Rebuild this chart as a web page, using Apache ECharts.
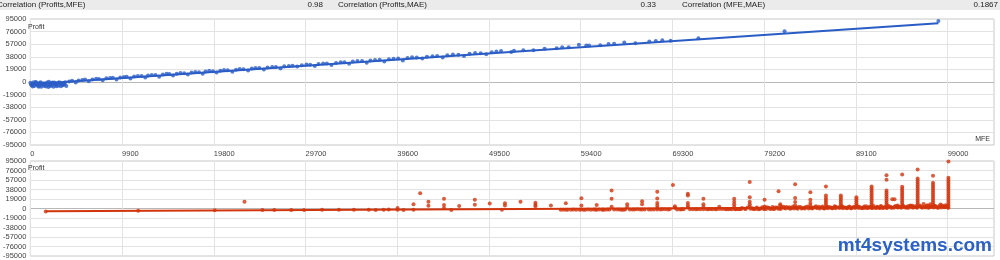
<!DOCTYPE html>
<html><head><meta charset="utf-8">
<script src="https://cdn.jsdelivr.net/npm/echarts@6/dist/echarts.min.js"></script>
<style>html,body{margin:0;padding:0;background:#fff}#c{width:1000px;height:260px}</style>
</head><body><div id="c"></div>
<script>
// ---- data ----
const corrLabels = ["Correlation (Profits,MFE)", "Correlation (Profits,MAE)", "Correlation (MFE,MAE)"];
const corrValues = ["0.98", "0.33", "0.1867"];
const yAxisName = "Profit";
const xAxisName = "MFE";
const watermark = "mt4systems.com";

// top chart: [MFE, Profit]
const bluePoints = [
 [0,-1200],[150,-4800],[300,-2600],[420,-5900],[560,-900],[700,-3700],[820,-2100],[950,-5200],[1100,-300],[1230,-4100],
 [1380,-1800],[1500,-6100],[1640,-2900],[1790,-600],[1900,-4500],[2050,-3300],[2200,-1500],[2320,-5400],[2480,-2400],[2600,-700],
 [2750,-4000],[2900,-1900],[3020,-5600],[3180,-3000],[3300,-1100],[3450,-4300],[3600,-2200],[3750,-500],[250,-6800],[900,-7200],
 [1700,-6600],[2500,-7000],[3300,-6300],[600,100],[2000,300],[80,-3900],[480,-3000],[1000,-1600],[1450,-4000],[2150,-6200],[2700,-3100],[3500,-5000],
 [350,-500],[780,-5600],[1180,-7000],[1560,-2300],[1960,-7400],[2380,-800],[2820,-6400],[3100,-200],[3680,-3600],[3880,-6000],
 [4200,800],[4900,-600],[5600,2900],[6300,1200],[7100,4800],[7800,2600],[8600,5900],[9300,3900],[10100,7400],[10800,5300],
 [11600,9200],[12400,6900],[13100,10400],[13900,8100],[14700,12300],[15400,9800],[16200,13700],[17000,11200],[17800,15100],[18600,12600],
 [19300,16800],[20100,14300],[20900,18200],[21800,15600],[22600,19500],[23500,17300],[24300,21000],[25200,18700],[26100,22800],[27000,20400],
 [27900,24100],[28800,23300],[29800,26400],[30700,24300],[31600,28000],[32500,25800],[33500,29700],[34400,27500],[35300,31500],[36300,29200],
 [37200,33200],[38200,30900],[39200,35000],[40200,32600],[41200,37300],[42300,35400],[43400,39000],[44500,37100],[45600,41500],[46800,39200],
 [48000,43800],[49200,41900],[50300,45900],[50800,46600],[51900,45200],[53200,47700],[54300,47900],[55500,50000],[56800,50900],[58100,52500],
 [59200,56300],[60300,54900],[61500,55600],[62400,57200],[64100,59600],[65300,58400],[66800,61000],[68200,62900],[69100,62300],[72100,65900],
 [81400,76600],[98000,92000],
 [4500,1900],[5200,2400],[5900,3600],[6700,3900],[7400,4700],[8200,5500],[8900,6300],[9700,6600],[10400,7900],[11200,8300],
 [12000,9100],[12700,9900],[13500,10500],[14300,11300],[15000,12100],[15800,12600],[16600,13300],[17400,14200],[18200,14700],[18900,15800],
 [19700,16300],[20500,17100],[21300,17800],[22200,18600],[23000,19300],[23900,20400],[24700,21100],[25600,21900],[26500,22600],[27400,23700],
 [28300,24500],[29300,25300],[30200,26200],[31100,27100],[32000,27900],[33000,28800],[33900,29600],[34800,30800],[35800,31600],[36700,32400],
 [37700,33500],[38700,34300],[39700,35400],[40700,36200],[41700,37100],[42800,38200],[43900,39300],[45000,40500],[46200,41100],[47400,42600],
 [48600,43400],[49800,44900],[52200,47200],[57400,52300],[60000,55100],[63000,57800],[67500,61900]
];
const blueTrend = [[0,-3500],[98000,88500]];

// bottom chart: [MAE, Profit]
const redPoints = [
 [1660,-5800],[11640,-4600],[19900,-3500],[23110,13600],
 [25050,-3200],[26330,-3000],[28160,-2900],[29550,-2800],[31480,-2600],[33300,-2700],[34920,-2400],[36520,-2300],[37270,-3000],[38130,-2500],[38670,-2200],
 [39630,1200],[39630,-2500],[40270,-3000],[41350,8600],[41350,-2600],[42070,30600],[42960,13600],[42960,5500],
 [44640,19600],[44640,7000],[44640,1000],[45430,-2800],[46280,5000],[47970,17600],[47970,7500],[49580,10000],
 [50890,-2500],[51220,10500],[51220,6000],[52900,13500],[54510,11600],[54510,7500],[54510,4500],[56180,6000],
 [57230,-2500],[57790,10500],[57790,-2600],[58350,-2500],[58900,-2400],[59260,-2600],
 [59470,20600],[59470,6000],[59470,-2000],[59900,-2500],[60500,-2400],[61120,7000],[61120,-2500],[61730,-2300],[62020,-2400],
 [62730,36000],[62730,19600],[62730,3500],[63340,-2200],[63800,-2300],[64190,-2000],[64410,8600],[64410,3000],
 [66020,14600],[66020,8600],[66020,-2000],[66740,-2100],
 [67660,33600],[67660,20000],[67660,11000],[67660,6000],[67660,1000],[67660,-2200],[68810,-1900],
 [69350,47200],[69560,4500],[69560,1500],[70130,-1800],
 [70960,29700],[70960,26000],[70960,11000],[70960,6000],[70960,2000],
 [72640,19600],[72640,8600],[72640,3500],[72640,-1500],[73180,-1600],[74070,-1500],[74350,3500],
 [75320,-1500],[75700,-1400],[76100,-1600],[76560,-1300],
 [75960,19600],[75960,13600],[75960,8600],[75960,3500],
 [77640,52800],[77640,22600],[77640,13600],[77640,8600],[77640,4000],[78140,-1200],[78570,-1300],
 [79240,17600],[79240,4000],[79240,1000],[79240,-1000],[79960,-1000],[80290,-800],
 [80750,34700],[80930,8500],[80930,5500],[81360,800],[81800,900],[82110,600],
 [82540,48700],[82540,21100],[82540,13000],[82540,6000],[82540,2000],[83360,500],
 [84180,32700],[84180,17600],[84180,11000],[84180,6000],[84180,1500],[84790,4500],[85330,2000],
 [85860,44200],[85860,26000],[85860,21100],[85860,17000],[85860,13000],[85860,9000],[85860,5000],[85860,1500],[86580,500],
 [87470,26000],[87470,22000],[87470,18000],[87470,14000],[87470,10000],[87470,6000],[87470,2000],[88110,500],[88540,600],
 [89150,22600],[89150,18600],[89150,14600],[89150,10600],[89150,6600],[89150,2600],[89720,700],[90360,800],
 [90790,44200],[90790,40000],[90790,36000],[90790,32000],[90790,28000],[90790,24000],[90790,20000],[90790,16000],[90790,12000],[90790,8000],[90790,4000],[90790,1000],
 [91220,900],[91600,1000],[91970,800],
 [92400,66300],[92400,57700],[92400,36200],[92400,32000],[92400,28000],[92400,24000],[92400,20000],[92400,16000],[92400,12000],[92400,8000],[92400,4000],[92400,1000],
 [93020,18600],[93260,18600],[93590,6000],[93590,2500],
 [94090,67800],[94090,43700],[94090,39500],[94090,35500],[94090,31500],[94090,27500],[94090,23500],[94090,19500],[94090,15500],[94090,11500],[94090,7500],[94090,3500],
 [94500,3000],[94980,6000],[95300,2000],
 [95760,78000],[95760,60000],[95760,56000],[95760,52000],[95760,48000],[95760,44000],[95760,40000],[95760,36000],[95760,32000],[95760,28000],[95760,24000],[95760,20000],[95760,16000],[95760,12000],[95760,8000],[95760,4000],
 [96400,9000],[96700,5000],[97130,8500],[96900,1500],
 [97420,65300],[97420,51300],[97420,47300],[97420,43300],[97420,39300],[97420,35300],[97420,31300],[97420,27300],[97420,23300],[97420,19300],[97420,15300],[97420,11300],[97420,7300],[97420,3300],
 [98230,8000],[98500,4000],[98770,6500],[98000,1500],
 [99080,94000],[99080,61400],[99080,57400],[99080,53400],[99080,49400],[99080,45400],[99080,41400],[99080,37400],[99080,33400],[99080,29400],[99080,25400],[99080,21400],[99080,17400],[99080,13400],[99080,9400],[99080,5400],[99080,1400],
 [79500,2500],[80100,3000],[80600,1800],[81100,2600],[81600,3200],[82900,2800],[83700,3100],[84500,2200],[85100,3300],[86200,2900],
 [86900,3400],[87800,2500],[88300,3100],[88900,3600],[89500,2900],[90000,3800],[90500,3200],[91400,3700],[91800,4100],[92800,3300],
 [93300,4200],[93800,3600],[94700,4400],[95100,3900],[95500,4600],[96100,4100],[96500,3400],[97000,4800],[97700,4300],[98100,4900],[98900,4200],
 [76800,1200],[77100,-500],[77400,2100],[77900,600],[78400,1800],[78800,-200],[79000,2700],[79700,1500],[80400,2200],[80900,-300],
 [81300,3400],[81900,2300],[82300,3800],[82700,900],[83100,2900],[83500,1600],[83900,3900],[84300,800],[84700,2600],[85500,4200],
 [85700,-200],[86000,3200],[86400,1900],[86800,4300],[87200,2300],[87600,4600],[88000,1700],[88400,4000],[88700,2200],[89300,4500],
 [89900,2000],[90200,4700],[90600,1800],[91000,5000],[91400,2300],[91800,5200],[92200,2800],[92600,5400],[93000,1800],[93400,5100],
 [93800,2600],[94200,5600],[94600,1500],[94900,4800],[95200,5500],[95600,2500],[96000,6200],[96300,2100],[96800,6600],[97200,3000],
 [97600,5700],[97900,2000],[98400,6100],[98700,2400],[98950,5200],
 [60800,-1800],[61400,-2100],[62300,-2000],[63000,-1900],[65000,-1800],[65500,-1700],[67000,-1900],[68200,-1700],[69000,-1600],[70500,-1700],
 [71500,-1500],[72000,-1400],[73600,-1300],[74700,-1200],[75000,-900],[76300,-1100],
 [57500,-2300],[58000,-2500],[58600,-2200],[59700,-2300],[60200,-2100],[61000,-2200],[61800,-2000],[62500,-2200],[63600,-2100],[64000,-2400],
 [64700,-2000],[65200,-2200],[65800,-1900],[66300,-2000],[67300,-1800],[68000,-2000],[68500,-1600],[69800,-1800],[70300,-1500],[71200,-1700],
 [71800,-1600],[72300,-1300],[73000,-1500],[73400,-1200],[73900,-1400],[74400,-1100],[75100,-1300],[75500,-1000],[76000,-1200],[76400,-800],
 [76700,-1100],[77200,-900],[77700,-700],[78000,-1000],[78300,-600],[78700,-900],[79100,-500],[79400,-800],[79800,-400],[80200,-600],
 [80700,-300],[81000,-500],[81500,-200],[82000,-400],[82400,-100],[82800,-300],[83200,0],[83600,-200],[84000,200],[84400,0],
 [84900,300],[85200,100],[85600,500],[86100,300],[86500,600],[86900,400],[87300,800],[87700,500],[88200,900],[88600,700],
 [89000,1100],[89400,800],[89800,1200],[90100,1000],[90400,1400],[90900,1100],[91300,1500],[91700,1200],[92100,1600],[92500,1300],
 [92900,1700],[93200,1400],[93600,1800],[94000,1500],[94400,1900],[94800,1600],[95200,2000],[95700,1700],[96200,2100],[96600,1800],
 [97000,2200],[97500,1900],[97800,2300],[98300,2000],[98600,2400],[99000,2100]
];
const redTrend = [[1660,-5500],[99080,3000]];

// axes
const xMin = 0, xMax = 104000, xStep = 9900;
const yMin = -95000, yMax = 95000, yStep = 19000;

// ---- chart ----
const FONT = "'Liberation Sans', Arial, sans-serif";
const chart = echarts.init(document.getElementById('c'), null, {renderer: 'canvas'});
const splitCol = '#e3e3e3', zeroCol = '#b8b8b8', borderCol = '#c9c9c9';
// horizontal split lines: the one at 0 is darker
const ySplitColors = [splitCol, splitCol, splitCol, splitCol, splitCol, zeroCol, splitCol, splitCol, splitCol, splitCol, splitCol];
function xAx(grid, showLabels) {
  return {type:'value', gridIndex:grid, min:xMin, max:xMax, interval:xStep,
    axisLine:{show:false}, axisTick:{show:false},
    splitLine:{show:true, lineStyle:{color:splitCol, width:1}},
    axisLabel:{show:showLabels, showMaxLabel:false, margin:5, fontSize:7.5, color:'#444', fontFamily:FONT,
      align:'left', formatter:v=>String(v)}};
}
function yAx(grid) {
  return {type:'value', gridIndex:grid, min:yMin, max:yMax, interval:yStep,
    axisLine:{show:false}, axisTick:{show:false},
    splitLine:{show:true, lineStyle:{color:ySplitColors, width:1}},
    axisLabel:{margin:4, fontSize:7.5, color:'#444', fontFamily:FONT, formatter:v=>String(v)}};
}

chart.setOption({
  animation:false,
  backgroundColor:'#fff',
  grid:[
    {left:25, right:6, top:19, height:126, show:true, borderColor:borderCol, borderWidth:1, backgroundColor:'#fff'},
    {left:25, right:6, top:161, height:126, show:true, borderColor:borderCol, borderWidth:1, backgroundColor:'#fff'}
  ],
  xAxis:[xAx(0,true), xAx(1,false)],
  yAxis:[yAx(0), yAx(1)],
  series:[
    {type:'scatter', xAxisIndex:0, yAxisIndex:0, data:bluePoints, symbolSize:4,
      itemStyle:{color:'#2a5cc6'}, z:3},
    {type:'line', xAxisIndex:0, yAxisIndex:0, data:blueTrend, symbol:'none',
      lineStyle:{color:'#2a5cc6', width:2}, z:4},
    {type:'scatter', xAxisIndex:1, yAxisIndex:1, data:redPoints, symbolSize:4,
      itemStyle:{color:'#d2350c'}, z:3},
    {type:'line', xAxisIndex:1, yAxisIndex:1, data:redTrend, symbol:'none',
      lineStyle:{color:'#d2350c', width:2}, z:4}
  ],
  graphic:[
    {type:'rect', left:0, top:0, shape:{width:1000, height:10}, style:{fill:'#ebebeb'}, z:10},
    {type:'text', x:-3, y:5, style:{text:corrLabels[0], font:"8px "+FONT, fill:'#222', textVerticalAlign:'middle'}, z:11},
    {type:'text', x:323, y:5, style:{text:corrValues[0], font:"8px "+FONT, fill:'#222', textAlign:'right', textVerticalAlign:'middle'}, z:11},
    {type:'text', x:338, y:5, style:{text:corrLabels[1], font:"8px "+FONT, fill:'#222', textVerticalAlign:'middle'}, z:11},
    {type:'text', x:656, y:5, style:{text:corrValues[1], font:"8px "+FONT, fill:'#222', textAlign:'right', textVerticalAlign:'middle'}, z:11},
    {type:'text', x:682, y:5, style:{text:corrLabels[2], font:"8px "+FONT, fill:'#222', textVerticalAlign:'middle'}, z:11},
    {type:'text', x:998, y:5, style:{text:corrValues[2], font:"8px "+FONT, fill:'#222', textAlign:'right', textVerticalAlign:'middle'}, z:11},
    {type:'text', x:28, y:27, style:{text:yAxisName, font:"7px "+FONT, fill:'#333', textVerticalAlign:'middle'}, z:11},
    {type:'text', x:990, y:139, style:{text:xAxisName, font:"7px "+FONT, fill:'#333', textAlign:'right', textVerticalAlign:'middle'}, z:11},
    {type:'text', x:28, y:168, style:{text:yAxisName, font:"7px "+FONT, fill:'#333', textVerticalAlign:'middle'}, z:11},
    {type:'text', x:992, y:246, style:{text:watermark, font:"bold 19px "+FONT, fill:'#2c62c6', textAlign:'right', textVerticalAlign:'middle'}, z:11}
  ]
});
</script></body></html>
